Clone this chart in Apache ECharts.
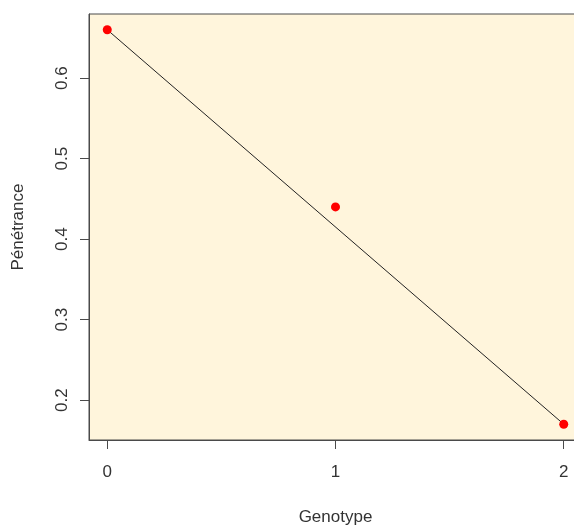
<!DOCTYPE html>
<html>
<head>
<meta charset="utf-8">
<script src="https://cdn.jsdelivr.net/npm/echarts@6/dist/echarts.min.js"></script>
<style>
  html, body { margin: 0; padding: 0; background: #ffffff; }
  #chart { width: 574px; height: 527px; }
</style>
</head>
<body>
<div id="chart"></div>
<script>
// Observed penetrance by genotype
const genotype = [0, 1, 2];
const penetrance = [0.66, 0.44, 0.17];
const xTicks = [0, 1, 2];
const yTicks = [0.2, 0.3, 0.4, 0.5, 0.6];

// Axis ranges padded 4% on each side of the data range
function padRange(vals) {
  const lo = Math.min(...vals), hi = Math.max(...vals);
  const pad = (hi - lo) * 0.04;
  return [lo - pad, hi + pad];
}
const xr = padRange(genotype);
const yr = padRange(penetrance);

const points = genotype.map((g, i) => [g, penetrance[i]]);
const trend = [points[0], points[points.length - 1]];

const font = 'Liberation Sans, Arial, sans-serif';
const ink = '#333333';
const frame = '#4a4a4a';
const chart = echarts.init(document.getElementById('chart'), null, { renderer: 'canvas' });
chart.setOption({
  animation: false,
  backgroundColor: '#ffffff',
  grid: {
    left: 89, top: 14, width: 493, height: 426,
    outerBoundsMode: 'none', containLabel: false,
    show: true, backgroundColor: '#fff5dc', borderColor: frame, borderWidth: 1
  },
  xAxis: {
    type: 'value', min: xr[0], max: xr[1],
    name: 'Genotype', nameLocation: 'middle', nameGap: 69,
    nameTextStyle: { fontFamily: font, fontSize: 17, color: ink },
    splitLine: { show: false },
    axisLine: { show: true, onZero: false, lineStyle: { color: frame } },
    axisTick: { show: true, inside: false, length: 9, customValues: xTicks, lineStyle: { color: frame } },
    axisLabel: { customValues: xTicks, margin: 24, fontFamily: font, fontSize: 17, color: ink }
  },
  yAxis: {
    type: 'value', min: yr[0], max: yr[1],
    name: 'Pénétrance', nameLocation: 'middle', nameGap: 62,
    nameTextStyle: { fontFamily: font, fontSize: 17, color: ink },
    splitLine: { show: false },
    axisLine: { show: true, onZero: false, lineStyle: { color: frame } },
    axisTick: { show: true, inside: false, length: 9, customValues: yTicks, lineStyle: { color: frame } },
    axisLabel: { customValues: yTicks, rotate: 90, margin: 27, fontFamily: font, fontSize: 17, color: ink,
      formatter: v => v.toFixed(1), verticalAlign: 'middle', align: 'center' }
  },
  series: [
    {
      type: 'line', data: trend, showSymbol: false, symbol: 'none',
      lineStyle: { color: '#222', width: 1 }, z: 2
    },
    {
      type: 'scatter', data: points, symbol: 'circle', symbolSize: 9,
      itemStyle: { color: '#ff0000', opacity: 1 }, z: 3
    }
  ]
});
</script>
</body>
</html>
